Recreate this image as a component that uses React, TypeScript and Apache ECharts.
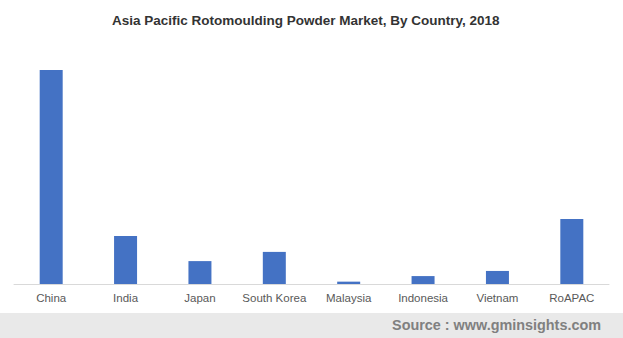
import React, { useEffect, useRef } from "react";
import * as echarts from "echarts";

const categories = ["China", "India", "Japan", "South Korea", "Malaysia", "Indonesia", "Vietnam", "RoAPAC"];
const values = [100, 22.4, 10.7, 15.0, 1.1, 3.7, 6.1, 30.4];
const titleText = "Asia Pacific Rotomoulding Powder Market, By Country, 2018";
const sourceText = "Source : www.gminsights.com";

export default function App() {
  const ref = useRef<HTMLDivElement>(null);
  useEffect(() => {
    if (!ref.current) return;
    const chart = echarts.init(ref.current, undefined, { renderer: "svg" });
    chart.setOption({
      animation: false,
      backgroundColor: "#ffffff",
      title: {
        text: titleText,
        left: 112,
        top: 13,
        padding: 0,
        textStyle: {
          fontFamily: "Liberation Sans, Arial, sans-serif",
          fontSize: 13.5,
          fontWeight: "bold",
          color: "#333333",
        },
      },
      grid: { left: 14, right: 14, top: 70, bottom: 54, containLabel: false },
      xAxis: {
        type: "category",
        data: categories,
        axisLine: { lineStyle: { color: "#d9d9d9", width: 1 } },
        axisTick: { show: false },
        axisLabel: {
          color: "#595959",
          fontSize: 11.5,
          fontFamily: "Liberation Sans, Arial, sans-serif",
          margin: 8,
          interval: 0,
        },
      },
      yAxis: {
        type: "value",
        min: 0,
        max: 100,
        show: false,
        splitLine: { show: false },
      },
      series: [
        {
          type: "bar",
          data: values,
          barWidth: 23,
          itemStyle: { color: "#4472c4" },
        },
      ],
      graphic: [
        {
          type: "rect",
          left: 0,
          top: 313,
          shape: { width: 623, height: 25 },
          style: { fill: "#e9e9e9" },
          silent: true,
        },
        {
          type: "text",
          right: 22,
          top: 318,
          style: {
            text: sourceText,
            fill: "#808080",
            font: "bold 14.4px 'Liberation Sans', Arial, sans-serif",
          },
        },
      ],
    });
    return () => chart.dispose();
  }, []);
  return <div ref={ref} style={{ width: 623, height: 338, position: "fixed", left: 0, top: 0 }} />;
}
